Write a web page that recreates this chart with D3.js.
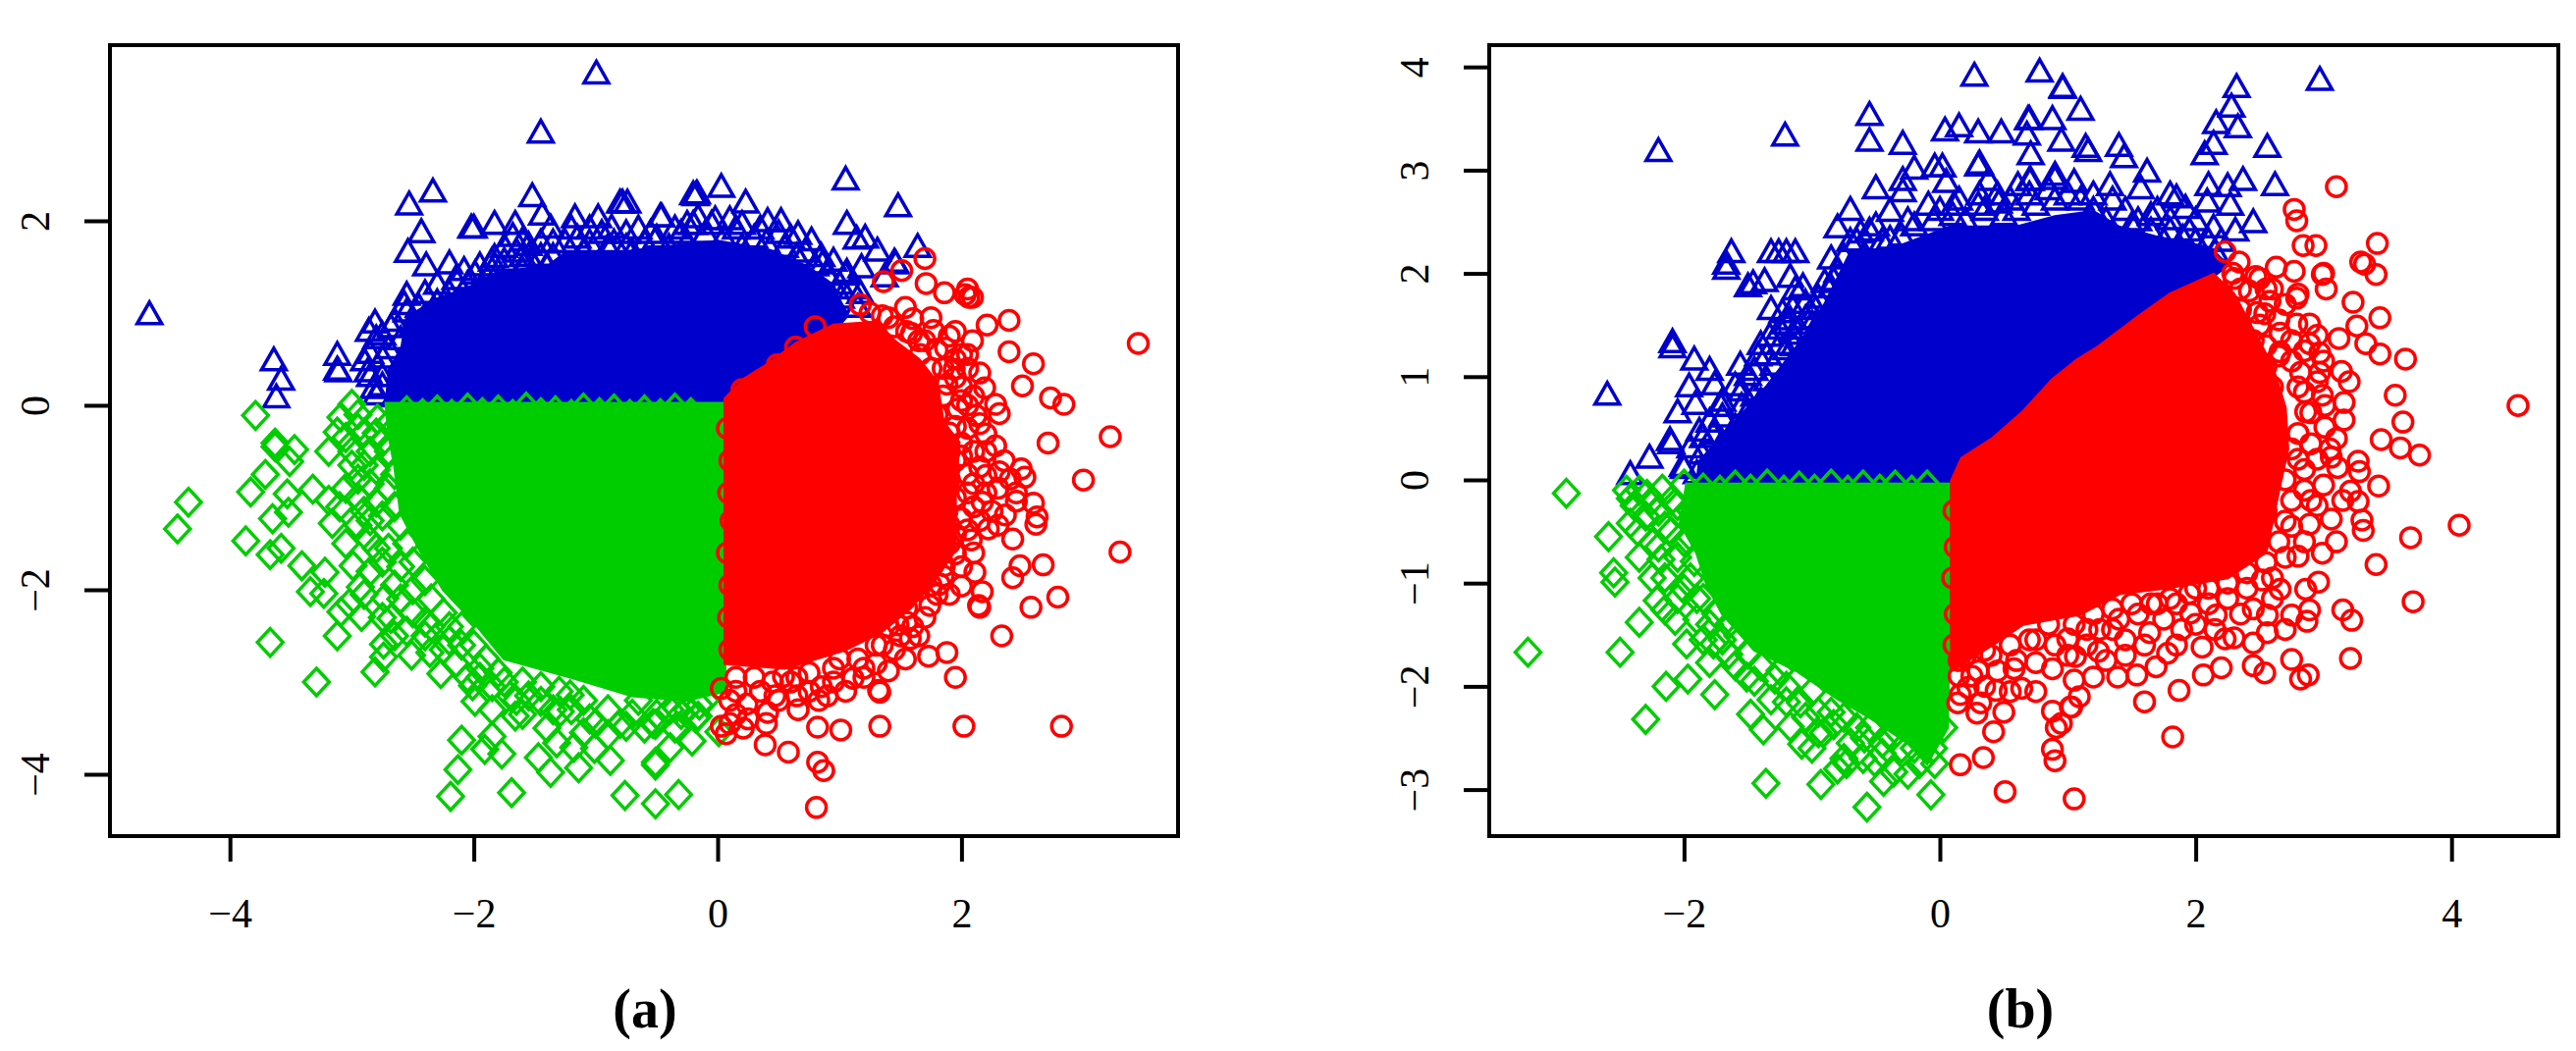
<!DOCTYPE html>
<html><head><meta charset="utf-8">
<script src="https://cdn.jsdelivr.net/npm/d3@7"></script>
<style>html,body{margin:0;background:#fff}svg{display:block}</style></head>
<body><svg id="c" width="2624" height="1071"></svg>
<script>
const aXTicks=[-4,-2,0,2], aYTicks=[-4,-2,0,2];
const bXTicks=[-2,0,2,4], bYTicks=[-3,-2,-1,0,1,2,3,4];
const aTitle="(a)", bTitle="(b)";

// Saturated overplotted regions, outlines
const aBlueCore=[[-2.72,0],[-2.7,.3],[-2.6,.55],[-2.55,.95],[-2.3,1.15],[-2,1.3],[-1.8,1.45],[-1.4,1.5],[-1.25,1.65],[-.85,1.65],[-.4,1.72],[0,1.78],[.43,1.68],[.74,1.5],[.95,1.3],[1.05,.95],[.89,.7],[.27,.17],[.03,0]];
const aGreenCore=[[-2.72,.02],[.06,.02],[.06,-3.1],[-.26,-3.2],[-.7,-3.15],[-1.2,-2.95],[-1.75,-2.75],[-2,-2.35],[-2.25,-2],[-2.45,-1.55],[-2.6,-1.17],[-2.65,-.65],[-2.7,-.3]];
const aRedCore=[[.06,0],[.06,.07],[.21,.28],[.43,.46],[.64,.67],[.95,.87],[1.3,.9],[1.45,.7],[1.65,.5],[1.8,.25],[1.85,-.18],[1.98,-.4],[1.95,-.93],[1.95,-1.57],[1.78,-1.9],[1.58,-2.2],[1.35,-2.45],[1.05,-2.65],[.55,-2.85],[.06,-2.8]];
const bBlueCore=[[-1.9,-.04],[-1.88,.18],[-1.6,.56],[-1.35,.91],[-1.1,1.32],[-.9,1.7],[-.7,2.2],[-.35,2.25],[.08,2.45],[.6,2.45],[.9,2.55],[1.2,2.6],[1.4,2.45],[1.7,2.35],[2.11,2.25],[2.25,2.08],[.07,-.04]];
const bGreenCore=[[-1.98,-.04],[.09,-.04],[.06,-2.4],[-.1,-2.75],[-.25,-2.55],[-.55,-2.3],[-.8,-2.12],[-1.12,-1.85],[-1.45,-1.65],[-1.7,-1.3],[-1.82,-1.02],[-1.9,-.71],[-2.03,-.42]];
const bRedCore=[[.09,-.01],[.17,.21],[.41,.4],[.65,.66],[.88,.97],[1.07,1.16],[1.24,1.29],[1.55,1.58],[1.8,1.8],[2.14,1.99],[2.3,1.8],[2.45,1.45],[2.6,1.1],[2.7,.7],[2.72,.3],[2.65,-.1],[2.55,-.7],[2.25,-.95],[1.75,-1.05],[1.41,-1.1],[1.1,-1.3],[.65,-1.4],[.41,-1.6],[.09,-1.85]];

// Individually visible markers
const aBlue=[[-4.66,.97],[-.995,3.58],[-1.45,2.94],[-2.335,2.3],[-2.53,2.16],[-2.43,1.86],[-2.54,1.645],[-2.39,1.5],[-2.2,1.52],[-2.08,1.45],[-1.99,1.41],[-1.52,2.25],[-1.44,2.05],[-1.37,1.91],[-2.02,1.91],[-2,1.91],[-1.83,1.95],[-1.66,1.95],[-1.68,1.82],[-1.17,2.02],[-.98,2.02],[-.87,1.91],[-.78,2.18],[-.8,2.18],[-.74,2.18],[-.47,2.03],[-.2,2.27],[-2.55,1.18],[-2.57,1.08],[-2.81,.88],[-2.86,.79],[-2.68,.83],[-2.8,.71],[-3.12,.53],[-3.12,.37],[-3.11,.35],[-3.64,.47],[-3.58,.26],[-3.62,.07],[-2.9,.47],[-2.82,.17],[-2.87,.35],[-1.83,1.59],[-1.6,1.77],[-1.55,1.72],[1.05,2.43],[1.48,2.14],[1.06,1.95],[.03,2.35],[-.17,2.28],[-.18,2.26],[.23,2.18],[-.46,2.03],[.41,1.98],[.52,1.98],[-.02,2],[-.16,2.02],[.66,1.84],[.77,1.77],[1.21,1.8],[1.14,1.79],[1.64,1.7],[1.45,1.54],[1.46,1.52],[1.31,1.66],[1.18,1.48],[1.06,1.43],[.86,1.52],[1.37,1.38],[1.17,1.2],[1.01,1.15],
[-2.3,1.1],[-2.2,1.2],[-2.05,1.3],[-1.95,1.25],[-1.85,1.45],[-1.75,1.55],[-1.65,1.65],[-1.55,1.6],[-1.45,1.75],[-1.35,1.6],[-1.25,1.75],[-1.15,1.8],[-1.05,1.75],[-.95,1.85],[-.85,1.75],[-.7,1.65],[-.6,1.75],[-.5,1.8],[-.4,1.7],[-.3,1.85],[-.2,1.95],[-.1,1.85],[.05,1.8],[.15,1.9],[.3,1.8],[.4,1.75],[.55,1.7],[.65,1.6],[.8,1.5],[.9,1.4],[1,1.3],[-2.75,.5],[-2.7,.6],[-2.6,.7],[-2.5,.85],[-2.4,.95],[-2.75,.3],[-2.8,.1],[-2.65,.08],[-2.55,.35],[-2.45,1.05],[-1.8,1.3],[-1.6,1.45],[-1.4,1.5],[-1.1,1.65],[-.75,1.7],[-.25,1.75],[.2,1.7],[.6,1.5],
[-2.85,.55],[-2.75,.75],[-2.65,.9],[-2.55,1],[-2.4,1.2],[-2.3,1.3],[-2.15,1.35],[-1.95,1.5],[-1.85,1.55],[-1.75,1.7],[-1.6,1.6],[-1.45,1.6],[-1.35,1.75],[-1.2,1.9],[-1.05,1.9],[-.9,1.7],[-.75,1.85],[-.65,1.9],[-.55,1.85],[-.35,1.9],[-.25,1.95],[-.05,1.95],[.1,2],[.2,1.95],[.35,1.9],[.5,1.85],[.6,1.8],[.72,1.65],[.85,1.6],[.95,1.55],[1.05,1.4],[1.1,1.25],[1.15,1.05],[.95,1.1],[-2.75,.2],[-2.6,.45],[-2.85,.3]];
const aGreen=[[-4.34,-1.05],[-4.43,-1.34],[-3.87,-1.47],[-3.83,-.94],[-3.71,-.75],[-3.63,-.45],[-3.47,-.48],[-3.51,-.61],[-3.53,-.96],[-3.65,-1.23],[-3.52,-1.16],[-3.32,-.91],[-3.19,-1.03],[-3.16,-1.28],[-3.67,-1.62],[-3.58,-1.55],[-3.41,-1.74],[-3.22,-1.81],[-3.34,-2.02],[-3.23,-2.04],[-3.67,-2.57],[-3.12,-2.5],[-3.29,-3],[-2.81,-2.89],[-2.27,-2.91],[-2.51,-2.71],[-2.36,-2.68],[-2.73,-2.09],[-2.92,-2.29],[-3.02,-2.15],[-2.93,-1.97],[-2.99,-1.74],[-3.09,-2.24],[-2.68,-2.31],[-2.74,-2.59],[-2.74,-2.73],[-2.1,-3.63],[-2.13,-3.95],[-2.19,-4.24],[-1.69,-4.2],[-1.91,-3.73],[-1.77,-3.78],[-1.85,-3.59],[-1.47,-3.82],[-1.37,-3.98],[-1.14,-3.93],[-.88,-3.85],[-.76,-4.23],[-.51,-4.32],[-.32,-4.22],[-.51,-3.87],[-.51,-3.9],[-1.01,-3.72],[-1.32,-3.66],[-1.18,-3.71],[-1.66,-3.37],[-1.85,-3.3],[-1.99,-3.21],[-2.01,-3.04],[-1.45,-3.21],[-1.21,-3.14],[-.9,-3.57],[-.75,-3.48],[-.51,-3.46],[-.21,-3.64],[-.39,-3.3],[-.18,-3.39],[-2.87,-1.44],[-3.19,-.5],[-1.29,-3.32],[-3.79,-.11],[-3,.01],[-3.09,-.13],[-3.12,-.29],[-2.79,-.15],[-3.63,-.41],[-.39,-3.71],[-.16,-3.37],[-.34,-3.28],[-.53,-3.45],[.01,-3.54],
[-2.9,-.3],[-2.85,-.5],[-2.8,-.7],[-2.7,-.9],[-2.65,-1.1],[-2.6,-1.3],[-2.55,-1.5],[-2.5,-1.7],[-2.4,-1.9],[-2.35,-2.1],[-2.25,-2.25],[-2.1,-2.4],[-2,-2.6],[-1.9,-2.75],[-1.8,-2.9],[-1.6,-3],[-1.45,-3.05],[-1.3,-3.1],[-1.1,-3.2],[-.9,-3.3],[-.7,-3.35],[-.5,-3.35],[-.3,-3.35],[-2.95,-.1],[-2.8,-.3],[-2.7,-.5],[-2.85,-.85],[-2.75,-1.2],[-2.7,-1.55],[-2.6,-1.75],[-2.5,-2],[-2.4,-2.35],[-2.2,-2.55],[-2.15,-2.8],[-1.95,-2.95],[-1.7,-3.15],[-1.05,-3.4],[-.65,-3.2],[-.1,-3.2],[-3,-.5],[-2.95,-.8],[-2.9,-1.15],
[-2.95,-.25],[-3.05,-.35],[-3,-.65],[-2.9,-.65],[-3.05,-.9],[-2.95,-1],[-2.8,-1.05],[-2.85,-1.25],[-2.95,-1.3],[-2.8,-1.55],[-2.75,-1.7],[-2.85,-1.8],[-2.65,-1.95],[-2.6,-2.1],[-2.75,-2.3],[-2.5,-2.25],[-2.55,-2.45],[-2.4,-2.5],[-2.35,-2.4],[-2.2,-2.4],[-2.1,-2.6],[-2.25,-2.65],[-1.95,-2.85],[-2.05,-2.95],[-1.85,-3.05],[-1.75,-3],[-1.65,-3.2],[-1.55,-3.15],[-1.35,-3.3],[-1.2,-3.3],[-1,-3.45],[-.8,-3.45],[-.6,-3.5],[-.35,-3.5],[-.25,-3.3],[-.15,-3.25],[-2.7,-.2],[-2.75,-.4],[-2.65,-.75],[-3.1,-1.1],[-3.05,-1.5],[-2.9,-2.05],[-2.65,-2.5],[-1.6,-3.35],[-1.4,-3.5],[-1.1,-3.55],
[-2.55,-.06],[-2.42,-.09],[-2.3,-.05],[-2.18,-.1],[-2.05,-.03],[-1.93,-.08],[-1.8,-.05],[-1.68,-.1],[-1.57,-.02],[-1.45,-.08],[-1.33,-.06],[-1.2,-.1],[-1.1,-.03],[-.97,-.08],[-.85,-.04],[-.72,-.1],[-.6,-.05],[-.47,-.09],[-.35,-.03],[-.22,-.08]];
const aRed=[[1.7,1.59],[1.51,1.46],[1.36,1.34],[1.71,1.32],[1.86,1.22],[2.05,1.26],[2.06,1.17],[2.09,1.17],[2.03,1.2],[2.39,.92],[2.21,.87],[1.54,1.06],[1.6,.94],[1.17,1.09],[1.35,.97],[3.45,.67],[2.09,.7],[2.39,.58],[2.59,.45],[2.5,.21],[2.73,.08],[2.84,.01],[2.15,.35],[2.19,.19],[2.28,.01],[2.31,-.09],[2.12,-.11],[2.2,-.31],[2.71,-.41],[3.22,-.34],[1.95,-.23],[1.77,-.29],[1.87,.62],[1.77,.81],[1.59,.78],[1.66,.55],[1.94,.39],[1.88,.23],[1.97,-.04],[.64,.63],[.49,.44],[.2,.17],[3,-.81],[3.3,-1.59],[2.82,-3.48],[2.02,-3.48],[1.33,-3.48],[1.01,-3.52],[.82,-3.49],[.39,-3.68],[.58,-3.76],[.82,-3.87],[.87,-3.96],[.81,-4.36],[1.95,-2.95],[2.33,-2.5],[2.57,-2.19],[2.79,-2.08],[2.67,-1.73],[2.48,-1.74],[2.42,-1.87],[2.11,-1.81],[2,-1.96],[2.17,-2.02],[2.14,-2.17],[2.15,-2.19],[1.73,-2.72],[1.88,-2.68],[1.54,-2.75],[1.4,-2.88],[1.32,-3.09],[1.33,-3.11],[1.11,-2.96],[.95,-3],[.83,-3.2],[.66,-3.3],[.41,-3.33],[.47,-3.15],[.54,-2.94],[.21,-3.5],[.07,-3.56],[.03,-3.48],[.24,-3.24],[.03,-3.07],[1.58,-2.53],[1.48,-2.38],[1.74,-2.17],[1.82,-1.94],[2.42,-1.45],[2.61,-1.29],[2.62,-1.21],[2.59,-1.06],[2.45,-1.04],[2.36,-1.19],[2.22,-1.34],[2.08,-1.46],[2.17,-1.05],[2,-1.23],[1.88,-1.16],[2.52,-.78],[2.49,-.69],[2.31,-.72],[2.2,-.76],[2.15,-.67],[2.05,-.95],[1.88,-.89],[2.28,-.44],[2,-.41],[1.86,-1.74],[1.95,-1.61],
[1.8,.6],[1.75,.4],[1.85,.1],[1.8,-.1],[1.95,-.6],[1.9,-.8],[1.95,-1],[1.9,-1.3],[1.9,-1.5],[1.75,-1.7],[1.65,-2],[1.55,-2.2],[1.4,-2.4],[1.3,-2.6],[1.15,-2.75],[.95,-2.85],[.75,-2.9],[.6,-3],[.3,-2.95],[.15,-2.95],[.1,-3.2],[1.45,.85],[1.65,.7],[1.25,1],[.8,.85],[2,.2],[2.05,-.25],[2.1,-.5],[2.05,-.75],[2.1,-1.1],[1.8,-2.05],[1.6,-2.4],[1.2,-2.85],[.85,-3.05],[.45,-3],[.15,-3.35],
[2,.55],[2.05,.4],[1.95,.3],[2,.05],[1.9,-.3],[2.15,-.2],[2.2,-.5],[2.1,-.85],[2.2,-.95],[2.25,-1.15],[2.15,-1.25],[2.05,-1.35],[1.95,-1.4],[2.3,-.9],[2.4,-.8],[2.35,-.6],[2.45,-.95],[2.3,-1.3],[2.1,-1.6],[2,-1.75],[1.85,-1.85],[1.75,-1.95],[1.9,-2.05],[1.7,-2.3],[1.65,-2.5],[1.5,-2.5],[1.45,-2.65],[1.3,-2.8],[1.2,-2.95],[1.05,-3.1],[.9,-3.15],[.75,-3.1],[.65,-3.15],[.5,-3.2],[.35,-3.1],[.25,-3.4],[.4,-3.45],[.15,-3.1],[.1,-3.45],[.65,-2.95],[1,-2.75],[1.35,-2.6],[1.55,-2.35],[1.9,-.5],[2,-.55],[2.05,0],[2.1,.1],[1.95,.5],[1.9,.75],[1.7,.7],[1.55,.8],[1.4,.95],[1.75,.95],[1.95,.8],[2.05,.55],[1.85,.4],
[.08,-.25],[.1,-.6],[.09,-.95],[.11,-1.25],[.08,-1.6],[.1,-1.95],[.09,-2.3],[.1,-2.65]];

const bBlue=[[-2.2,3.17],[-1.21,3.32],[-.55,3.52],[-.55,3.27],[-.29,3.24],[.27,3.9],[.78,3.94],[.96,3.78],[.04,3.37],[.15,3.41],[.3,3.35],[.48,3.35],[.7,3.48],[.88,3.48],[.68,3.33],[.71,3.14],[.95,3.27],[.31,3.05],[.3,3.03],[.38,2.89],[-.04,3.02],[.02,3.02],[-.2,3],[.05,2.87],[-.5,2.81],[-.29,2.89],[-.7,2.6],[-.39,2.59],[.31,2.75],[.46,2.67],[.61,2.84],[.7,2.89],[.9,2.9],[1.05,2.87],[-.62,2.38],[-.8,2.43],[-.39,2.32],[-.29,2.78],[-.09,2.65],[.11,2.65],[-1.63,2.19],[-1.67,2.08],[-1.67,2.03],[-1.32,2.19],[-1.26,2.19],[-1.2,2.19],[-1.13,2.19],[-.85,2.13],[-.83,1.92],[-1.17,1.95],[-1.07,1.86],[-1.13,1.83],[-1.5,1.86],[-1.46,1.89],[-1.37,1.91],[-.97,1.64],[-1.32,1.64],[-1.23,1.61],[-1.17,1.54],[-1.33,1.38],[-2.09,1.32],[-2.09,1.27],[-1.92,1.15],[-1.8,1.05],[-1.14,1.29],[-1.42,1.19],[-1.56,1.1],[-1.76,.91],[-1.96,.89],[-2.6,.81],[-1.91,.72],[-1.71,.7],[-2.05,.64],[-2.11,.37],[-1.88,.46],[-1.77,.43],[-2.42,.04],[-2.27,.2],[-2.1,.34],[-2.01,.12],[-1.86,.24],[.96,3.79],[1.1,3.57],[.69,3.48],[1.14,3.21],[1.16,3.17],[1.4,3.22],[1.44,3.11],[1.62,2.97],[2.32,3.79],[2.97,3.86],[2.28,3.6],[2.16,3.44],[2.33,3.4],[2.14,3.24],[2.07,3.14],[2.56,3.21],[1.8,2.75],[1.85,2.72],[2.1,2.84],[2.37,2.89],[2.62,2.84],[2.25,2.83],[2.09,2.68],[1.92,2.62],[2.27,2.65],[2.45,2.48],[1.8,2.51],[1.57,2.81],[1.33,2.84],[.9,2.94],[.71,2.89],[1.9,2.33],[2.14,2.43],[2.31,2.4],
[-1.75,.2],[-1.7,.35],[-1.6,.5],[-1.5,.65],[-1.45,.8],[-1.35,.95],[-1.3,1.1],[-1.2,1.25],[-1.1,1.45],[-1,1.5],[-.95,1.75],[-.9,1.9],[-.8,2],[-.75,2.15],[-.65,2.3],[-.55,2.4],[-.45,2.3],[-.3,2.35],[-.2,2.45],[-.05,2.5],[.1,2.55],[.2,2.5],[.35,2.6],[.5,2.55],[.6,2.6],[.75,2.65],[.9,2.7],[1,2.75],[1.1,2.7],[1.2,2.6],[1.3,2.5],[1.45,2.6],[1.55,2.5],[1.65,2.4],[1.75,2.3],[1.85,2.2],[2,2.3],[2.1,2.3],[-2,.1],[-1.9,.05],[-1.65,.1],[-1.55,.3],[-1.7,.6],[-1.55,.85],[-1.5,1],[-1.4,1.3],[-1.25,1.45],[-1.15,1.65],[-1.05,1.7],[.45,2.75],[1.15,2.5],[1.7,2.6],[2,2.5],
[-1.95,.3],[-1.85,.4],[-1.8,.55],[-1.7,.75],[-1.6,.9],[-1.55,.7],[-1.45,1.05],[-1.35,1.2],[-1.25,1.3],[-1.2,1.5],[-1.15,1.4],[-1.05,1.55],[-.95,1.5],[-.85,1.85],[-.75,1.8],[-.7,2.3],[-.6,2.15],[-.5,2.45],[-.25,2.5],[0,2.6],[.15,2.7],[.3,2.65],[.55,2.7],[.7,2.75],[.85,2.8],[1.2,2.75],[1.35,2.7],[1.5,2.45],[1.65,2.55],[1.8,2.4],[1.95,2.4],[2.15,2.2],[2.2,2.3],[-1.6,.35],[-1.4,.75]];
const bGreen=[[-3.22,-1.67],[-2.92,-.13],[-2.59,-.55],[-2.55,-.9],[-2.54,-.99],[-2.5,-1.67],[-2.35,-1.38],[-2.3,-2.32],[-2.42,-.18],[-2.39,-.25],[-2.29,-.14],[-2.17,-.09],[-2.42,-.42],[-2.36,-.5],[-2.25,-.61],[-2.35,-.75],[-2.18,-.77],[-2.21,-1.17],[-2.15,-1.26],[-2,-1.06],[-2.07,-1.36],[-1.98,-1.59],[-1.77,-1.59],[-1.8,-1.77],[-2.14,-2],[-1.97,-1.93],[-1.76,-2.08],[-1.51,-1.91],[-1.48,-2.27],[-1.38,-2.42],[-1.32,-2.13],[-1.17,-2.39],[-1.08,-2.56],[-1.36,-2.94],[-.93,-2.95],[-.57,-3.17],[-.07,-3.05],[-.44,-2.92],[-.36,-2.83],[-.8,-2.8],[-.73,-2.75],[-.51,-2.73],[-.04,-2.75],[-.16,-2.75],[-.59,-2.5],[-.38,-2.5],[-.91,-2.45],[-.83,-2.37],[-1.09,-2.16],[.03,-2.4],[-2,-.04],[-2,-.6],[-1.92,-.79],[-1.65,-1.69],[-1.58,-1.51],[-1.5,-1.69],[-1.29,-1.93],
[-2.2,-.3],[-2.1,-.2],[-1.95,-.3],[-2.1,-.5],[-2.05,-.75],[-1.95,-.95],[-1.85,-1.15],[-1.75,-1.3],[-1.9,-1.35],[-1.85,-1.55],[-1.6,-1.8],[-1.4,-1.8],[-1.2,-2],[-1,-2.05],[-.95,-2.25],[-.75,-2.3],[-.65,-2.4],[-.45,-2.55],[-.3,-2.6],[-.25,-2.85],[-.6,-2.7],
[-2.45,-.1],[-2.35,-.1],[-2.25,-.2],[-2.3,-.35],[-2.15,-.45],[-2.25,-.95],[-2.15,-.95],[-2.05,-1.15],[-1.9,-1.15],[-1.8,-1.4],[-1.7,-1.55],[-1.45,-1.95],[-1.2,-2.15],[-1.05,-2.3],[-.95,-2.45],[-.85,-2.25],[-.7,-2.55],[-.55,-2.4],[-.45,-2.65],[-.2,-2.6],[-.05,-2.6],[-2.05,-.25],[-2.2,-.65],[-1.95,-.55],[-1.65,-1.4],[-1.25,-1.85],[-.75,-2.7],[-1,-2.6],
[-1.85,-.08],[-1.72,-.1],[-1.6,-.05],[-1.48,-.09],[-1.35,-.04],[-1.22,-.1],[-1.1,-.06],[-.98,-.09],[-.85,-.04],[-.72,-.1],[-.6,-.05],[-.47,-.09],[-.35,-.05],[-.22,-.1],[-.1,-.05]];
const bRed=[[3.1,2.84],[2.77,2.62],[2.79,2.51],[2.84,2.27],[2.94,2.27],[3.42,2.29],[3.29,2.11],[3.32,2.09],[3.41,1.99],[2.99,1.99],[3,2],[3.02,1.85],[3.23,1.72],[3.44,1.57],[3.26,1.49],[3.12,1.37],[3.33,1.32],[3.44,1.22],[3.64,1.17],[3.14,1.05],[3.56,.82],[4.52,.72],[3.62,.56],[3.45,.39],[3.16,.75],[3.16,.58],[2.63,2.06],[2.77,2.02],[2.79,1.76],[2.8,1.8],[2.58,1.73],[2.48,1.62],[2.54,1.61],[2.34,2.11],[2.29,2],[2.47,1.97],[2.89,1.51],[2.79,1.51],[2.89,1.32],[2.97,1.23],[2.66,1.42],[2.66,1.24],[2.97,1.04],[2.99,.82],[2.82,1.04],[2.86,.66],[3.01,.72],[3.01,.51],[2.23,2.21],[2.42,1.83],[3.6,.31],[3.75,.24],[3.27,.18],[3.28,.08],[3.06,.22],[3.11,.12],[3.43,-.06],[3.21,-.11],[3.27,-.21],[3.3,-.39],[3.31,-.49],[4.06,-.44],[3.68,-.56],[3.41,-.82],[3.7,-1.18],[2.99,-.71],[3.06,-.38],[2.89,-.43],[2.8,-.74],[2.52,-.97],[2.96,-.99],[2.86,-1.06],[2.66,-1.06],[2.89,-1.26],[2.75,-1.31],[2.87,-1.37],[3.15,-1.26],[3.22,-1.36],[3.21,-1.73],[2.56,-1.31],[2.56,-1.48],[2.45,-1.58],[2.45,-1.8],[2.54,-1.87],[2.75,-1.74],[2.88,-1.89],[2.82,-1.93],[2.2,-1.82],[2.06,-1.89],[2.05,-1.62],[2.23,-1.54],[2.3,-1.53],[1.96,-1.29],[2.16,-1.31],[1.87,-2.04],[1.6,-2.15],[1.82,-2.49],[1.78,-1.68],[1.69,-1.81],[1.54,-1.89],[1.39,-1.91],[1.2,-1.91],[1.05,-1.94],[1.09,-2.1],[1.03,-2.2],[.88,-2.24],[.95,-2.36],[.91,-2.4],[.88,-2.61],[.9,-2.72],[1.05,-3.09],[.51,-3.02],[.88,-1.83],[.75,-1.77],[.64,-2.02],[1,-1.54],[1.06,-1.71],[1.24,-1.66],[1.64,-1.48],[1.89,-1.45],[.16,-2.76],[.34,-2.69],[.42,-2.44],[.5,-2.25],[.29,-2.26],[.14,-2.16],[.16,-2.08],[.58,-1.83],[.44,-2.04],[.22,-2.01],[.32,-2.16],[1.02,-2.2],
[.2,-1.7],[.3,-1.85],[.15,-1.9],[.4,-1.7],[.55,-1.6],[.7,-1.55],[.85,-1.4],[1.05,-1.4],[1.2,-1.3],[1.35,-1.25],[1.5,-1.2],[1.65,-1.2],[1.8,-1.15],[1.95,-1.1],[2.1,-1.05],[2.25,-1],[2.4,-.9],[2.55,-.8],[2.65,-.6],[2.7,-.4],[2.75,-.2],[2.7,0],[2.8,.2],[2.9,.35],[2.85,.85],[2.75,1.15],[2.55,1.3],[2.5,1.5],[2.35,1.65],[2.45,1.35],[2.3,1.95],[2.55,.55],[2.9,-.2],[2.55,-.3],[1.75,-1.35],[1.35,-1.45],[1.15,-1.6],[1.45,-1.7],[2,-1.4],[2.35,-1.3],
[2.5,1.95],[2.6,1.85],[2.7,1.7],[2.65,1.55],[2.75,1.35],[2.85,1.25],[2.95,1.4],[3,1.15],[2.8,.9],[2.9,.65],[2.8,.45],[2.75,.3],[2.95,.2],[2.85,.1],[3,-.05],[2.85,-.1],[2.95,-.25],[2.75,-.45],[2.85,-.6],[2.7,-.75],[2.6,-.95],[2.4,-1.05],[2.45,-1.25],[2.25,-1.15],[2.1,-1.2],[2,-1.05],[1.85,-1.2],[1.7,-1.2],[1.55,-1.3],[1.4,-1.35],[1.6,-1.6],[1.45,-1.55],[1.25,-1.45],[1.15,-1.45],[1,-1.7],[.9,-1.6],[.75,-1.55],[.6,-1.75],[.45,-1.85],[.35,-1.65],[.25,-1.9],[.15,-1.75],[.35,-2],[.55,-2.05],[.75,-2.05],[1.3,-1.75],[1.85,-1.6],[2.15,-1.45],[2.6,-1.15],[2.7,-1.45],[3.1,-.6],[3.15,-.2],[3.1,.4],[3.2,.95],[2.6,.9],[2.55,1.1],[2.35,1.85],[2.55,1.85],[2.65,1.2],[2.95,.95],[3.05,.3],
[.11,-.3],[.12,-.65],[.1,-.95],[.12,-1.3],[.11,-1.6]];

const panels=[
 {title:aTitle,tx:aXTicks,ty:aYTicks,l:112,r:1200,x0:731,ux:124.2,y0:413,uy:94,cx:657,
  blueCore:aBlueCore,greenCore:aGreenCore,redCore:aRedCore,blue:aBlue,green:aGreen,red:aRed},
 {title:bTitle,tx:bXTicks,ty:bYTicks,l:1517,r:2606,x0:1976,ux:130.3,y0:489,uy:105.2,cx:2058,
  blueCore:bBlueCore,greenCore:bGreenCore,redCore:bRedCore,blue:bBlue,green:bGreen,red:bRed}];
const top_=46,bottom=852;
const BLUE="#0000CD",GREEN="#00CD00",RED="#FF0000";
const minus=v=>String(v).replace("-","\u2212");
const svg=d3.select("#c");

panels.forEach(p=>{
 const x=d3.scaleLinear().domain([(p.l-p.x0)/p.ux,(p.r-p.x0)/p.ux]).range([p.l,p.r]);
 const y=d3.scaleLinear().domain([(p.y0-bottom)/p.uy,(p.y0-top_)/p.uy]).range([bottom,top_]);
 const g=svg.append("g");
 const line=d3.line().x(d=>x(d[0])).y(d=>y(d[1])).curve(d3.curveLinearClosed);
 const core=(pts,c)=>g.append("path").attr("d",line(pts)).attr("fill",c).attr("stroke",c).attr("stroke-width",3);
 const marks=(pts,c,draw)=>{
  const s=g.append("g").attr("fill","none").attr("stroke",c).attr("stroke-width",3.5);
  draw(s.selectAll("x").data(pts).enter());
 };
 core(p.blueCore,BLUE);
 marks(p.blue,BLUE,e=>e.append("path").attr("d","M0,-14L12.5,8L-12.5,8Z").attr("transform",d=>`translate(${x(d[0])},${y(d[1])})`));
 core(p.greenCore,GREEN);
 marks(p.green,GREEN,e=>e.append("path").attr("d","M0,-14L13,0L0,14L-13,0Z").attr("transform",d=>`translate(${x(d[0])},${y(d[1])})`));
 core(p.redCore,RED);
 marks(p.red,RED,e=>e.append("circle").attr("r",10).attr("cx",d=>x(d[0])).attr("cy",d=>y(d[1])));

 const ax=svg.append("g").attr("transform",`translate(0,${bottom})`).call(d3.axisBottom(x).tickValues(p.tx).tickSize(26).tickFormat(minus));
 const ay=svg.append("g").attr("transform",`translate(${p.l},0)`).call(d3.axisLeft(y).tickValues(p.ty).tickSize(26).tickFormat(minus));
 [ax,ay].forEach(a=>{a.select(".domain").remove();a.selectAll("line").attr("stroke","#000").attr("stroke-width",4);
  a.selectAll("text").attr("font-family","'Liberation Serif'").attr("font-size",42).attr("fill","#000");});
 ax.selectAll("text").attr("dy",null).attr("y",93);
 ay.selectAll("text").attr("dy",null).attr("x",null).attr("y",null).attr("text-anchor","middle")
   .attr("transform","translate(-62,0) rotate(-90)");
 svg.append("rect").attr("x",p.l).attr("y",top_).attr("width",p.r-p.l).attr("height",bottom-top_).attr("fill","none").attr("stroke","#000").attr("stroke-width",4);
 svg.append("text").attr("x",p.cx).attr("y",1047).attr("text-anchor","middle").attr("font-family","'Liberation Serif'").attr("font-weight","bold").attr("font-size",56).text(p.title);
});
</script></body></html>
